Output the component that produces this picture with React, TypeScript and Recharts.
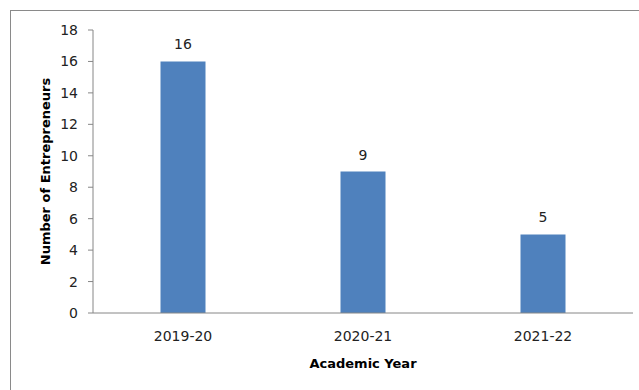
import React from 'react';
import { BarChart, Bar, XAxis, YAxis, LabelList, Label } from 'recharts';

const years = ['2019-20', '2020-21', '2021-22'];
const entrepreneurs = [16, 9, 5];
const yTicks = [0, 2, 4, 6, 8, 10, 12, 14, 16, 18];

const data = years.map((y, i) => ({ year: y, value: entrepreneurs[i] }));

const FONT = '"DejaVu Sans", Verdana, sans-serif';

export default function App() {
  return (
    <div style={{ position: 'absolute', left: 0, top: 0, width: 639, height: 390, background: '#fff', overflow: 'hidden' }}>
      <div
        style={{
          position: 'absolute',
          left: 10,
          top: 10,
          width: 640,
          height: 390,
          borderTop: '1px solid #8a8a8a',
          borderLeft: '1px solid #8a8a8a',
        }}
      />
      <div style={{ position: 'absolute', left: 0, top: 0 }}>
        <BarChart
          width={639}
          height={390}
          data={data}
          margin={{ top: 30, right: 6, bottom: 17, left: 33 }}
          barCategoryGap="37.5%"
        >
          <XAxis
            dataKey="year"
            height={60}
            axisLine={{ stroke: '#868686' }}
            tickLine={false}
            tickSize={6}
            tickMargin={12}
            tick={{ fill: '#222', fontSize: 14, fontFamily: FONT }}
          >
            <Label
              value="Academic Year"
              position="insideBottom"
              offset={5}
              style={{ fontFamily: FONT, fontSize: 13, fontWeight: 'bold', fill: '#000' }}
            />
          </XAxis>
          <YAxis
            width={60}
            domain={[0, 18]}
            ticks={yTicks}
            interval={0}
            axisLine={{ stroke: '#868686' }}
            tickLine={{ stroke: '#868686' }}
            tickSize={5}
            tickMargin={10}
            tick={{ fill: '#222', fontSize: 14, fontFamily: FONT }}
          >
            <Label
              value="Number of Entrepreneurs"
              angle={-90}
              position="center"
              dx={-18}
              style={{ fontFamily: FONT, fontSize: 13, fontWeight: 'bold', fill: '#000', textAnchor: 'middle' }}
            />
          </YAxis>
          <Bar dataKey="value" fill="#4F81BD" isAnimationActive={false}>
            <LabelList
              dataKey="value"
              position="top"
              offset={12}
              style={{ fill: '#222', fontSize: 14, fontFamily: FONT }}
            />
          </Bar>
        </BarChart>
      </div>
    </div>
  );
}
